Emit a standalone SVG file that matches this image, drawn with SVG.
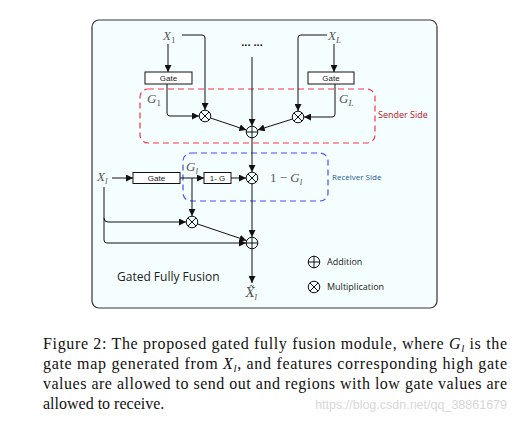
<svg xmlns="http://www.w3.org/2000/svg" width="524" height="431" viewBox="0 0 524 431">
<defs>
<marker id="ah" markerUnits="userSpaceOnUse" markerWidth="8" markerHeight="7" refX="7" refY="3.5" orient="auto">
<path d="M0,0 L7,3.5 L0,7 z" fill="#111"/>
</marker>
<g id="plus"><circle cx="0" cy="0" r="5.8" fill="none" stroke="#111" stroke-width="1"/><path d="M-5.8,0 H5.8 M0,-5.8 V5.8" stroke="#111" stroke-width="1"/></g>
<g id="mult"><circle cx="0" cy="0" r="5.8" fill="none" stroke="#111" stroke-width="1"/><path d="M-4.1,-4.1 L4.1,4.1 M-4.1,4.1 L4.1,-4.1" stroke="#111" stroke-width="1"/></g>
</defs>
<style>
.conn{fill:none;stroke:#111;stroke-width:1;marker-end:url(#ah)}
.box{fill:#fff;stroke:#111;stroke-width:1}
.bt{font-family:"Liberation Sans",Arial,sans-serif;font-size:8px;fill:#222;text-anchor:middle}
.math{font-family:"Liberation Serif","Times New Roman",serif;font-style:italic;font-size:13px;fill:#555}
.sub{font-size:9px}
.cap{font-family:"Liberation Serif","Times New Roman",serif;font-size:16px;fill:#111}
.leg{font-family:"Open Sans","Liberation Sans",sans-serif;font-size:9px;fill:#222}
</style>
<rect width="524" height="431" fill="#fff"/>
<rect x="92" y="20" width="345" height="288" rx="7" fill="#f5fefe" stroke="#333" stroke-width="1.2"/>
<rect id="sender" x="140" y="89" width="235" height="54" rx="8" fill="none" stroke="#ff3344" stroke-width="1.2" stroke-dasharray="6,4"/>
<rect id="receiver" x="183" y="153" width="145" height="48" rx="8" fill="none" stroke="#3f4fff" stroke-width="1.2" stroke-dasharray="6,4"/>
<text x="378" y="118" style="font-family:'Open Sans','Liberation Sans',sans-serif;font-size:9px;fill:#c0141e">Sender Side</text>
<text x="332" y="180" style="font-family:'Open Sans','Liberation Sans',sans-serif;font-size:8px;fill:#1f5a96">Receiver Side</text>
<g id="connectors">
<path class="conn" d="M168,44 V72"/>
<path class="conn" d="M182,35 H202 Q205,35 205,38 V110"/>
<path class="conn" d="M167,84 V113 Q167,116 170,116 H199"/>
<path class="conn" d="M210.5,118 L246.3,130"/>
<path class="conn" d="M252,57 V126"/>
<path class="conn" d="M327,35 H301 Q298,35 298,38 V111"/>
<path class="conn" d="M334,44 V72"/>
<path class="conn" d="M335,84 V114 Q335,117 332,117 H304"/>
<path class="conn" d="M292.5,119 L257.7,130"/>
<path class="conn" d="M252,138 V172"/>
<path class="conn" d="M112,178 H133"/>
<path class="conn" d="M180,178 H204"/>
<path class="conn" d="M231,178 H246"/>
<path class="conn" d="M192,178 V216"/>
<path class="conn" d="M104,187 V240 Q104,243 107,243 H246"/>
<path class="conn" d="M104,218 Q104,222 108,222 H186"/>
<path class="conn" d="M197.5,224 L246.4,240.5"/>
<path class="conn" d="M252,184 V237"/>
<path class="conn" d="M252,249 V283"/>
</g>
<g id="x1"><text class="math" x="163" y="40">X<tspan class="sub" font-style="normal" dy="3">1</tspan></text></g>
<g id="dots"><text x="252" y="46" text-anchor="middle" style="font-family:'Liberation Sans',sans-serif;font-size:11px;font-weight:bold;fill:#111">... ...</text></g>
<g id="xL"><text class="math" x="328" y="40">X<tspan class="sub" dy="3">L</tspan></text></g>
<g id="gate1"><rect class="box" x="145" y="72" width="47" height="12"/><text class="bt" x="168.5" y="81">Gate</text></g>
<g id="gateL"><rect class="box" x="308" y="72" width="46" height="12"/><text class="bt" x="331" y="81">Gate</text></g>
<g id="g1"><text class="math" x="147" y="103">G<tspan class="sub" font-style="normal" dy="3">1</tspan></text></g>
<g id="gL"><text class="math" x="339" y="103">G<tspan class="sub" dy="3">L</tspan></text></g>
<g id="mult1"><use href="#mult" x="205" y="116"/></g>
<g id="multL"><use href="#mult" x="298" y="117"/></g>
<g id="plus1"><use href="#plus" x="252" y="132"/></g>
<g id="xl"><text class="math" x="97" y="181">X<tspan class="sub" dy="3">l</tspan></text></g>
<g id="gate"><rect class="box" x="133" y="172.5" width="47" height="11"/><text class="bt" x="156.5" y="181">Gate</text></g>
<g id="gl"><text class="math" x="186" y="171">G<tspan class="sub" dy="3">l</tspan></text></g>
<g id="oneminus"><rect class="box" x="204" y="172.5" width="27" height="11"/><text class="bt" x="217.5" y="181">1- G</text></g>
<g id="mult3"><use href="#mult" x="252" y="178"/></g>
<g id="lbl1mg"><text class="math" x="270" y="182"><tspan font-style="normal">1 − </tspan>G<tspan class="sub" dy="3">l</tspan></text></g>
<g id="mult2"><use href="#mult" x="192" y="222"/></g>
<g id="plus2"><use href="#plus" x="252" y="243"/></g>
<g id="out"><text class="math" x="246" y="297" style="font-family:'DejaVu Serif','Liberation Serif',serif;font-size:12px">X̃<tspan class="sub" style="font-family:'Liberation Serif',serif" dy="3">l</tspan></text></g>
<text x="117" y="281" style="font-family:'Open Sans','Liberation Sans',sans-serif;font-size:12px;fill:#222">Gated Fully Fusion</text>
<g id="legend">
<use href="#plus" x="314" y="262"/><text class="leg" x="327" y="265">Addition</text>
<use href="#mult" x="314" y="287"/><text class="leg" x="327" y="290">Multiplication</text>
</g>
<g id="caption">
<text class="cap" x="43" y="349" textLength="464" lengthAdjust="spacing">Figure 2: The proposed gated fully fusion module, where <tspan font-style="italic">G</tspan><tspan font-style="italic" font-size="11px" dy="3">l</tspan><tspan dy="-3"> is the</tspan></text>
<text class="cap" x="43" y="369" textLength="464" lengthAdjust="spacing">gate map generated from <tspan font-style="italic">X</tspan><tspan font-style="italic" font-size="11px" dy="3">l</tspan><tspan dy="-3">, and features corresponding high gate</tspan></text>
<text class="cap" x="43" y="389" textLength="464" lengthAdjust="spacing">values are allowed to send out and regions with low gate values are</text>
<text class="cap" x="43" y="409">allowed to receive.</text>
<text x="507" y="409" text-anchor="end" style="font-family:'Liberation Sans',Arial,sans-serif;font-size:12.5px;fill:#d8d8d8">https://blog.csdn.net/qq_38861679</text>
</g>
</svg>
